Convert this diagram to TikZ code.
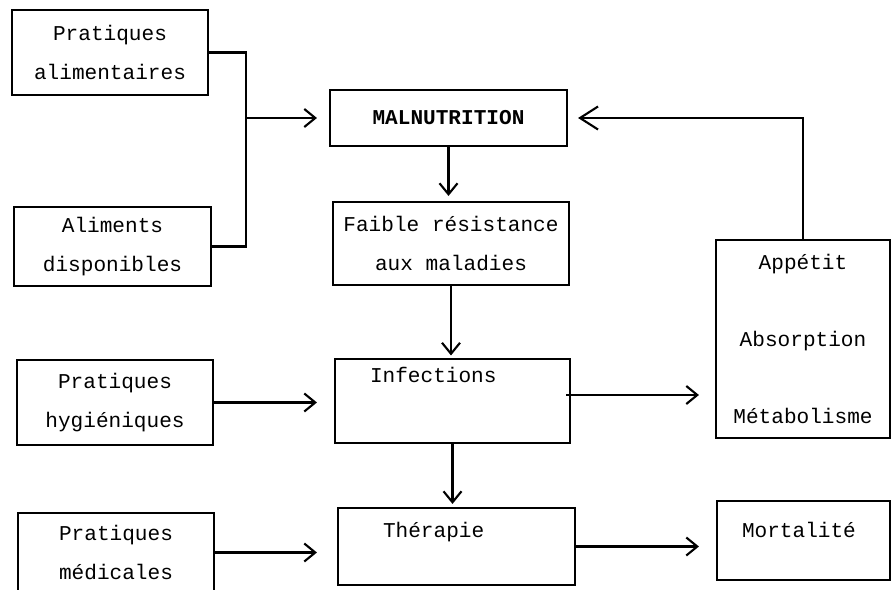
\documentclass[tikz,border=0pt]{standalone}
\usepackage{fontspec}
\setmonofont{Liberation Mono}
\usetikzlibrary{arrows.meta}

\begin{document}
\begin{tikzpicture}[
	box/.style={draw,line width=1.2pt,inner sep=0pt,font=\ttfamily\fontsize{12}{22}\selectfont,align=center},
	wire/.style={line width=1.2pt},
	arr/.style={line width=1.2pt,-{Straight Barb[length=2.2mm,width=3.6mm]}},
	bigarr/.style={line width=1.2pt,-{Straight Barb[length=3.6mm,width=4.6mm]}}
]
	\useasboundingbox (0,0) rectangle (17.82,-11.78);
	% left column
	\node[box,minimum width=3.92cm,minimum height=1.70cm] (pa) at (2.20,-1.05) {Pratiques\\alimentaires};
	\node[box,minimum width=3.94cm,minimum height=1.58cm] (ad) at (2.25,-4.93) {Aliments\\disponibles};
	\node[box,minimum width=3.92cm,minimum height=1.70cm] (ph) at (2.30,-8.05) {Pratiques\\hygiéniques};
	\node[box,minimum width=3.92cm,minimum height=1.58cm] (pm) at (2.32,-11.05) {Pratiques\\médicales};
	% middle column
	\node[box,minimum width=4.74cm,minimum height=1.12cm] (mal) at (8.97,-2.36) {\bfseries MALNUTRITION};
	\node[box,minimum width=4.72cm,minimum height=1.66cm] (fai) at (9.02,-4.87) {Faible résistance\\aux maladies};
	\node[box,minimum width=4.70cm,align=left,text width=3.30cm,inner xsep=0.7cm,text height=0.46cm,text depth=1.22cm] (inf) at (9.05,-8.02) {Infections};
	\node[box,minimum width=4.74cm,align=left,text width=2.94cm,inner xsep=0.9cm,text height=0.58cm,text depth=0.96cm] (the) at (9.13,-10.93) {Thérapie};
	% right column
	\node[box,minimum width=3.48cm,minimum height=3.96cm] (app) at (16.06,-6.78) {Appétit\\[0.76cm]Absorption\\[0.76cm]Métabolisme};
	\node[box,minimum width=3.46cm,align=left,text width=2.46cm,inner xsep=0.5cm,text height=0.72cm,text depth=0.86cm] (mor) at (16.07,-10.81) {Mortalité};
	% connectors
	\coordinate (jn) at (4.92,-2.36);
	\draw[wire] (pa.east) -| (jn) |- (ad.east);
	\draw[arr,shorten >=0.24cm] (jn) -- (mal.west);
	\draw[arr,shorten >=0.1cm] (mal.south) -- (mal.south |- fai.north);
	\draw[arr,shorten >=0.05cm] (fai.south) -- (fai.south |- inf.north);
	\draw[arr,shorten >=0.06cm] (inf.south) -- (inf.south |- the.north);
	\coordinate (infout) at ([yshift=0.12cm]inf.east);
	\draw[arr,shorten >=0.32cm] ([xshift=-0.1cm]infout) -- (infout -| app.west);
	\draw[bigarr,shorten >=0.2cm] (app.north) |- (mal.east);
	\draw[arr,shorten >=0.34cm] (ph.east) -- (ph.east -| inf.west);
	\draw[arr,shorten >=0.4cm] (pm.east) -- (pm.east -| the.west);
	\draw[arr,shorten >=0.34cm] (the.east) -- (the.east -| mor.west);
\end{tikzpicture}
\end{document}
